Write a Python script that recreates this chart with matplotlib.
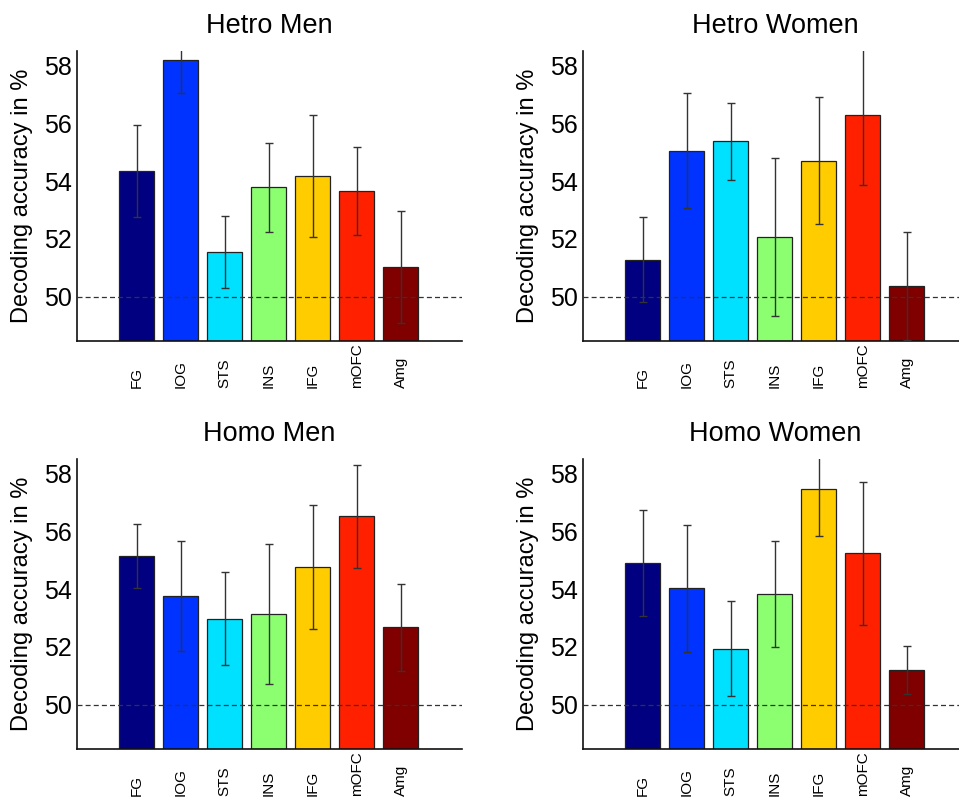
import numpy as np
import matplotlib.pyplot as plt

plt.rcParams['font.family'] = ['Liberation Sans', 'DejaVu Sans']

regions = ["FG", "IOG", "STS", "INS", "IFG", "mOFC", "Amg"]
bar_colors = ["#000080", "#0033ff", "#00e0ff", "#8cff70", "#ffcc00", "#ff2000", "#800000"]

titles = ["Hetro Men", "Hetro Women", "Homo Men", "Homo Women"]

hetro_men = [54.36, 58.20, 51.54, 53.78, 54.18, 53.65, 51.02]
hetro_men_err = [1.59, 1.17, 1.24, 1.55, 2.11, 1.52, 1.94]

hetro_women = [51.28, 55.05, 55.38, 52.06, 54.70, 56.27, 50.36]
hetro_women_err = [1.46, 1.98, 1.33, 2.72, 2.20, 2.42, 1.87]

homo_men = [55.15, 53.75, 52.98, 53.15, 54.76, 56.52, 52.68]
homo_men_err = [1.10, 1.90, 1.60, 2.42, 2.16, 1.78, 1.50]

homo_women = [54.90, 54.02, 51.93, 53.83, 57.45, 55.23, 51.20]
homo_women_err = [1.84, 2.20, 1.64, 1.82, 1.60, 2.48, 0.82]

means = [hetro_men, hetro_women, homo_men, homo_women]
errors = [hetro_men_err, hetro_women_err, homo_men_err, homo_women_err]

W, H = 959, 801
fig = plt.figure(figsize=(W / 100, H / 100), dpi=100)

# axes boxes in pixels: left, top
boxes = [(77, 51), (583, 51), (77, 459), (583, 459)]
ax_w, ax_h = 385, 290.4

x = np.arange(1, len(regions) + 1)

for k in range(4):
    left, top = boxes[k]
    ax = fig.add_axes([left / W, 1 - (top + ax_h) / H, ax_w / W, ax_h / H])
    ax.bar(x, means[k], width=0.8, color=bar_colors, edgecolor="#222222",
           linewidth=0.9, zorder=2)
    ax.errorbar(x, means[k], yerr=errors[k], fmt="none", ecolor="#333333",
                elinewidth=1.0, capsize=3, capthick=1.0, zorder=3)
    ax.axhline(50, color="#333333", linestyle=(0, (4, 2.5)), linewidth=0.9, zorder=4)

    ax.set_xlim(-0.36, 8.39)
    ax.set_ylim(48.45, 58.5)
    ax.set_yticks([50, 52, 54, 56, 58])
    ax.set_xticks(x)
    ax.set_xticklabels(regions, rotation=90, fontsize=11)
    for lbl in ax.get_xticklabels():
        lbl.set_va("bottom")
    ax.tick_params(axis="x", length=0, pad=33.8)
    ax.tick_params(axis="y", length=0, pad=4, labelsize=18)

    ax.spines["top"].set_visible(False)
    ax.spines["right"].set_visible(False)
    for s in ("left", "bottom"):
        ax.spines[s].set_color("#111111")
        ax.spines[s].set_linewidth(1.2)

    ax.set_ylabel("Decoding accuracy in %", fontsize=17)
    ax.yaxis.set_label_coords(-0.114, 0.5)
    ax.set_title(titles[k], fontsize=19.5, pad=13)

fig.savefig("out.png", dpi=100)
